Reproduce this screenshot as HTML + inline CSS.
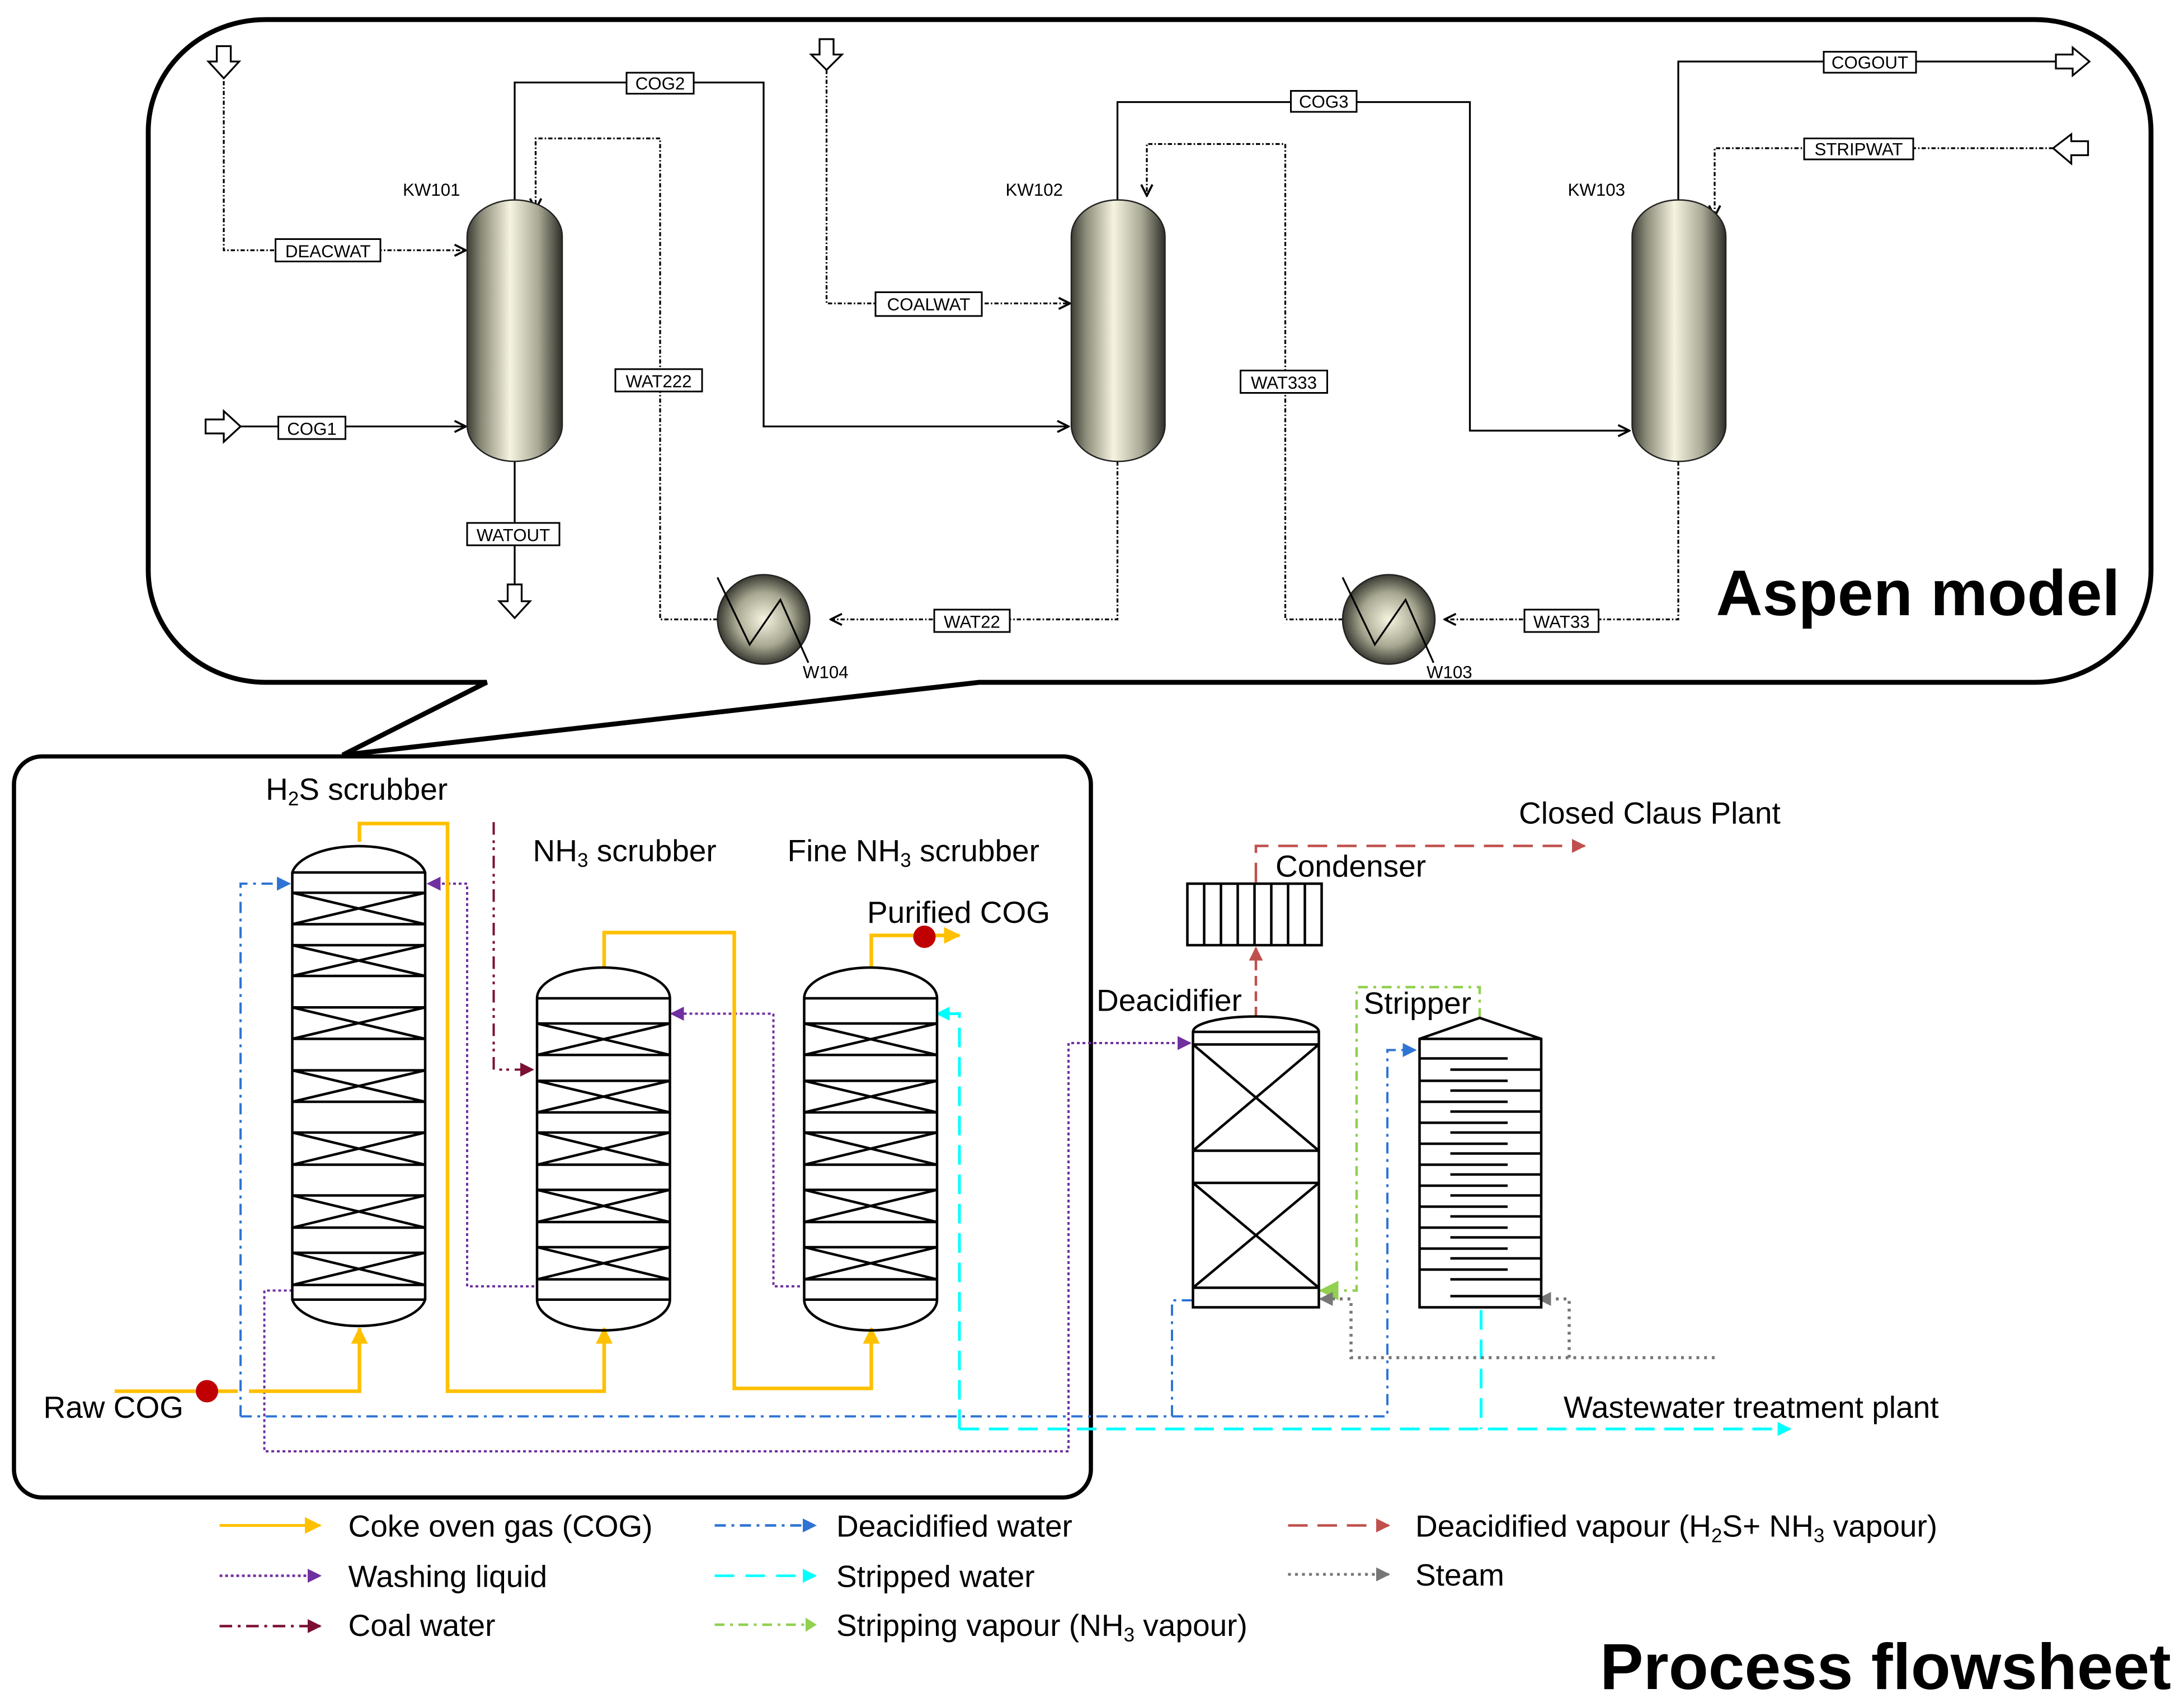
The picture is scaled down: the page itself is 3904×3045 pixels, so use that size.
<!DOCTYPE html>
<html><head><meta charset="utf-8"><style>html,body{margin:0;padding:0;background:#fff}svg{display:block}</style></head>
<body>
<svg xmlns="http://www.w3.org/2000/svg" width="3904" height="3045" viewBox="0 0 1561.6 1218" preserveAspectRatio="none" font-family="Liberation Sans, Arial, sans-serif">
<defs>
<linearGradient id="col" x1="0" y1="0" x2="1" y2="0">
<stop offset="0" stop-color="#3c3c34"/><stop offset="0.15" stop-color="#8a8a78"/><stop offset="0.45" stop-color="#f6f4e0"/><stop offset="0.75" stop-color="#a8a894"/><stop offset="1" stop-color="#2e2e28"/></linearGradient>
<radialGradient id="hx" cx="0.5" cy="0.5" r="0.5"><stop offset="0" stop-color="#f6f4e0"/><stop offset="0.6" stop-color="#a8a892"/><stop offset="1" stop-color="#3a3a32"/></radialGradient>
<marker id="ak" markerWidth="10" markerHeight="10" refX="9" refY="5" orient="auto" markerUnits="userSpaceOnUse"><path d="M1,1 L9,5 L1,9" fill="none" stroke="#000" stroke-width="1.5"/></marker>
<marker id="ay" markerWidth="12" markerHeight="12" refX="11" refY="6" orient="auto" markerUnits="userSpaceOnUse"><path d="M0,0 L12,6 L0,12Z" fill="#FFC000"/></marker>
<marker id="ap" markerWidth="10" markerHeight="10" refX="9" refY="5" orient="auto" markerUnits="userSpaceOnUse"><path d="M0,0 L10,5 L0,10Z" fill="#7030A0"/></marker>
<marker id="ab" markerWidth="10" markerHeight="10" refX="9" refY="5" orient="auto" markerUnits="userSpaceOnUse"><path d="M0,0 L10,5 L0,10Z" fill="#2E74D4"/></marker>
<marker id="am" markerWidth="10" markerHeight="10" refX="9" refY="5" orient="auto" markerUnits="userSpaceOnUse"><path d="M0,0 L10,5 L0,10Z" fill="#7B1034"/></marker>
<marker id="ar" markerWidth="10" markerHeight="10" refX="9" refY="5" orient="auto" markerUnits="userSpaceOnUse"><path d="M0,0 L10,5 L0,10Z" fill="#C0504D"/></marker>
<marker id="ac" markerWidth="10" markerHeight="10" refX="9" refY="5" orient="auto" markerUnits="userSpaceOnUse"><path d="M0,0 L10,5 L0,10Z" fill="#00FFFF"/></marker>
<marker id="ag" markerWidth="14" markerHeight="14" refX="13" refY="7" orient="auto" markerUnits="userSpaceOnUse"><path d="M0,0 L14,7 L0,14Z" fill="#92D050"/></marker>
<marker id="ad" markerWidth="10" markerHeight="10" refX="9" refY="5" orient="auto" markerUnits="userSpaceOnUse"><path d="M0,0 L10,5 L0,10Z" fill="#777"/></marker>
</defs>
<rect width="1561.6" height="1218" fill="#fff"/>

<path d="M190,14 H1455 A83,80 0 0 1 1538,94 V408 A83,80 0 0 1 1455,488 H700 L245,540 L348,488 H190 A84,80 0 0 1 106,408 V94 A84,80 0 0 1 190,14 Z" fill="none" stroke="#000" stroke-width="3.5"/>

<g fill="none" stroke="#000" stroke-width="1.3">
<path d="M368,143 V59 H546 V305 H764" marker-end="url(#ak)"/>
<path d="M172,305 H333" marker-end="url(#ak)"/>
<path d="M368,330 V418"/>
<path d="M799,143 V73 H1051 V308 H1165" marker-end="url(#ak)"/>
<path d="M1200,143 V44 H1470"/>
</g>
<g fill="none" stroke="#000" stroke-width="1.3" stroke-dasharray="3,1.5,1,1.5">
<path d="M160,58 V179 H333" marker-end="url(#ak)"/>
<path d="M591,50 V217 H765" marker-end="url(#ak)"/>
<path d="M513,443 H472 V99 H383 V150" marker-end="url(#ak)"/>
<path d="M799,330 V443 H594" marker-end="url(#ak)"/>
<path d="M960,443 H919 V103 H820 V140" marker-end="url(#ak)"/>
<path d="M1200,330 V443 H1033" marker-end="url(#ak)"/>
<path d="M1468,106 H1226 V155" marker-end="url(#ak)"/>
</g>
<g fill="#fff" stroke="#000" stroke-width="1.3">
<path d="M155,33 H165 V44 H171 L160,56 L149,44 H155 Z"/>
<path d="M586,28 H596 V39 H602 L591,50 L580,39 H586 Z"/>
<path d="M363,418 H373 V430 H379 L368,442 L357,430 H363 Z"/>
<path d="M147,300 H160 V294 L172,305 L160,316 V310 H147 Z"/>
<path d="M1470,39 H1482 V34 L1494,44 L1482,54 V49 H1470 Z"/>
<path d="M1493,101 H1481 V96 L1468,106 L1481,117 V111 H1493 Z"/>
</g>
<g stroke="#222" stroke-width="1">
<rect x="334" y="143" width="68" height="187" rx="34" ry="26" fill="url(#col)"/>
<rect x="766" y="143" width="67" height="187" rx="33" ry="26" fill="url(#col)"/>
<rect x="1167" y="143" width="67" height="187" rx="33" ry="26" fill="url(#col)"/>
<ellipse cx="546" cy="443" rx="33" ry="32" fill="url(#hx)"/>
<ellipse cx="993" cy="443" rx="33" ry="32" fill="url(#hx)"/>
</g>
<g fill="none" stroke="#000" stroke-width="1.3">
<path d="M513,413 L536,461 L558,429 L578,474"/>
<path d="M960,413 L983,461 L1005,429 L1025,474"/>
</g>
<g font-size="12.5" fill="#000">
<text x="288" y="140">KW101</text><text x="719" y="140">KW102</text><text x="1121" y="140">KW103</text>
<text x="574" y="485">W104</text><text x="1020" y="485">W103</text>
</g>
<g fill="#fff" stroke="#000" stroke-width="1.2">
<rect x="197" y="171" width="75" height="16"/><rect x="199" y="298" width="48" height="16"/>
<rect x="448" y="52" width="48" height="15"/><rect x="440" y="264" width="62" height="16"/>
<rect x="334" y="374" width="66" height="16"/><rect x="626" y="209" width="76" height="17"/>
<rect x="923" y="65" width="47" height="15"/><rect x="887" y="265" width="62" height="16"/>
<rect x="668" y="436" width="54" height="16"/><rect x="1090" y="436" width="53" height="16"/>
<rect x="1304" y="37" width="66" height="15"/><rect x="1290" y="99" width="78" height="15"/>
</g>
<g font-size="12.5" fill="#000" text-anchor="middle">
<text x="234.5" y="184">DEACWAT</text><text x="223" y="311">COG1</text>
<text x="472" y="64">COG2</text><text x="471" y="277">WAT222</text>
<text x="367" y="387">WATOUT</text><text x="664" y="222">COALWAT</text>
<text x="946.5" y="77">COG3</text><text x="918" y="278">WAT333</text>
<text x="695" y="449">WAT22</text><text x="1116.5" y="449">WAT33</text>
<text x="1337" y="49">COGOUT</text><text x="1329" y="111">STRIPWAT</text>
</g>
<text x="1227" y="440" font-size="46" font-weight="bold">Aspen model</text>

<rect x="10" y="541" width="770" height="530" rx="20" fill="none" stroke="#000" stroke-width="3"/>

<g fill="none" stroke-width="1.6">
<path d="M382,920 H334 V632 H306" stroke="#7030A0" stroke-dasharray="2,2" marker-end="url(#ap)"/>
<path d="M572,920 H553 V725 H480" stroke="#7030A0" stroke-dasharray="2,2" marker-end="url(#ap)"/>
<path d="M209,923 H189 V1038 H764 V746 H851" stroke="#7030A0" stroke-dasharray="2,2" marker-end="url(#ap)"/>
<path d="M172,1013 V632 H207" stroke="#2E74D4" stroke-dasharray="8,4,2,4" marker-end="url(#ab)"/>
<path d="M172,1013 H992 V751 H1012" stroke="#2E74D4" stroke-dasharray="8,4,2,4" marker-end="url(#ab)"/>
<path d="M853,930 H838 V1013" stroke="#2E74D4" stroke-dasharray="8,4,2,4"/>
<path d="M353,588 V765 H381" stroke="#7B1034" stroke-dasharray="9,4,2,3,2,4" marker-end="url(#am)"/>
<path d="M686,1022 V725 H670" stroke="#00FFFF" stroke-width="2" stroke-dasharray="14,7" marker-end="url(#ac)"/>
<path d="M686,1022 H1280" stroke="#00FFFF" stroke-width="2" stroke-dasharray="14,7" marker-end="url(#ac)"/>
<path d="M1059,937 V1022" stroke="#00FFFF" stroke-width="2" stroke-dasharray="14,7"/>
<path d="M898,727 V678" stroke="#C0504D" stroke-width="1.8" stroke-dasharray="7,4" marker-end="url(#ar)"/>
<path d="M898,631 V605 H1133" stroke="#C0504D" stroke-width="1.8" stroke-dasharray="14,7" marker-end="url(#ar)"/>
<path d="M1058,728 V706 H970 V923 H944" stroke="#92D050" stroke-width="1.8" stroke-dasharray="7,4,2,4" marker-end="url(#ag)"/>
<path d="M1226,971 H966 V929 H944" stroke="#777" stroke-width="2.2" stroke-dasharray="2,3.5" marker-end="url(#ad)"/>
<path d="M1122,971 V929 H1100" stroke="#777" stroke-width="2.2" stroke-dasharray="2,3.5" marker-end="url(#ad)"/>
</g>
<g fill="none" stroke="#FFC000" stroke-width="2.6">
<path d="M82,995 H140"/>
<path d="M155,995 H170 M178,995 H257 V950" marker-end="url(#ay)"/>
<path d="M257,602 V589 H320 V995 H432 V950" marker-end="url(#ay)"/>
<path d="M432,692 V667 H525 V993 H623 V950" marker-end="url(#ay)"/>
<path d="M623,692 V669 H686" marker-end="url(#ay)"/>
</g>
<ellipse cx="148" cy="995" rx="8" ry="8" fill="#C00000"/>
<ellipse cx="661" cy="670" rx="8" ry="8" fill="#C00000"/>

<g fill="none" stroke="#000" stroke-width="1.8">
<path d="M209,624 A48,22 0 0 1 304,624 V929.5 A48,22 0 0 1 209,929.5 Z"/>
<path d="M209,624 H304 M209,929.5 H304"/>
<path d="M209,638.5H304M209,661H304M209,638.5L304,661M304,638.5L209,661"/>
<path d="M209,676H304M209,698H304M209,676L304,698M304,676L209,698"/>
<path d="M209,720.5H304M209,743H304M209,720.5L304,743M304,720.5L209,743"/>
<path d="M209,765.5H304M209,788H304M209,765.5L304,788M304,765.5L209,788"/>
<path d="M209,810H304M209,833H304M209,810L304,833M304,810L209,833"/>
<path d="M209,855H304M209,878H304M209,855L304,878M304,855L209,878"/>
<path d="M209,896H304M209,919H304M209,896L304,919M304,896L209,919"/>

<path d="M384,714 A47.5,22 0 0 1 479,714 V929.5 A47.5,22 0 0 1 384,929.5 Z"/>
<path d="M384,714H479M384,929.5H479"/>
<path d="M384,732H479M384,754.5H479M384,732L479,754.5M479,732L384,754.5"/>
<path d="M384,773H479M384,795.6H479M384,773L479,795.6M479,773L384,795.6"/>
<path d="M384,810H479M384,833H479M384,810L479,833M479,810L384,833"/>
<path d="M384,851H479M384,874H479M384,851L479,874M479,851L384,874"/>
<path d="M384,892H479M384,915H479M384,892L479,915M479,892L384,915"/>

<path d="M575,714 A47.5,22 0 0 1 670,714 V929.5 A47.5,22 0 0 1 575,929.5 Z"/>
<path d="M575,714H670M575,929.5H670"/>
<path d="M575,732H670M575,754.5H670M575,732L670,754.5M670,732L575,754.5"/>
<path d="M575,773H670M575,795.6H670M575,773L670,795.6M670,773L575,795.6"/>
<path d="M575,810H670M575,833H670M575,810L670,833M670,810L575,833"/>
<path d="M575,851H670M575,874H670M575,851L670,874M670,851L575,874"/>
<path d="M575,892H670M575,915H670M575,892L670,915M670,892L575,915"/>

<path d="M853,738 A45,11 0 0 1 943,738 V935 H853 Z"/>
<path d="M853,738H943M853,747H943M853,823H943M853,747L943,823M943,747L853,823"/>
<path d="M853,846H943M853,921H943M853,846L943,921M943,846L853,921"/>
<rect x="849" y="632" width="96" height="44"/>
<path d="M861,632V676M873,632V676M885,632V676M897,632V676M909,632V676M921,632V676M933,632V676"/>
<path d="M1015,743 L1058,728 L1102,743 V935 H1015 Z"/>
<path d="M1015,743H1102"/>
<path d="M1015,757H1078M1015,773H1078M1015,788H1078M1015,803H1078M1015,818H1078M1015,833H1078M1015,848H1078M1015,863H1078M1015,878H1078M1015,893H1078M1015,908H1078"/>
<path d="M1037,765H1102M1037,780H1102M1037,795H1102M1037,810H1102M1037,825H1102M1037,840H1102M1037,855H1102M1037,870H1102M1037,885H1102M1037,900H1102M1037,915H1102M1037,927H1102"/>
</g>

<g font-size="22" fill="#000">
<text x="190" y="572">H<tspan font-size="14" dy="4">2</tspan><tspan dy="-4">S scrubber</tspan></text>
<text x="381" y="616">NH<tspan font-size="14" dy="4">3</tspan><tspan dy="-4"> scrubber</tspan></text>
<text x="563" y="616">Fine NH<tspan font-size="14" dy="4">3</tspan><tspan dy="-4"> scrubber</tspan></text>
<text x="620" y="660">Purified COG</text>
<text x="31" y="1014">Raw COG</text>
<text x="1086" y="589">Closed Claus Plant</text>
<text x="912" y="627">Condenser</text>
<text x="784" y="723">Deacidifier</text>
<text x="975" y="725">Stripper</text>
<text x="1118" y="1014">Wastewater treatment plant</text>
</g>

<g fill="none" stroke-width="1.8">
<path d="M157,1091 H229" stroke="#FFC000" stroke-width="2" marker-end="url(#ay)"/>
<path d="M157,1127 H229" stroke="#7030A0" stroke-dasharray="2,2" marker-end="url(#ap)"/>
<path d="M157,1163 H229" stroke="#7B1034" stroke-dasharray="9,4,2,4" marker-end="url(#am)"/>
<path d="M511,1091 H583" stroke="#2E74D4" stroke-dasharray="8,4,2,4" marker-end="url(#ab)"/>
<path d="M511,1127 H583" stroke="#00FFFF" stroke-dasharray="14,8" marker-end="url(#ac)"/>
<path d="M511,1162 H576" stroke="#92D050" stroke-dasharray="7,4,2,4"/>
<path d="M921,1091 H993" stroke="#C0504D" stroke-dasharray="14,7" marker-end="url(#ar)"/>
<path d="M921,1126 H993" stroke="#777" stroke-width="2" stroke-dasharray="2,3" marker-end="url(#ad)"/>
</g>
<path d="M576,1157 L584,1162 L576,1167Z" fill="#92D050"/>
<g font-size="22" fill="#000">
<text x="249" y="1099">Coke oven gas (COG)</text>
<text x="249" y="1135">Washing liquid</text>
<text x="249" y="1170">Coal water</text>
<text x="598" y="1099">Deacidified water</text>
<text x="598" y="1135">Stripped water</text>
<text x="598" y="1170">Stripping vapour (NH<tspan font-size="14" dy="4">3</tspan><tspan dy="-4"> vapour)</tspan></text>
<text x="1012" y="1099">Deacidified vapour (H<tspan font-size="14" dy="4">2</tspan><tspan dy="-4">S+ NH</tspan><tspan font-size="14" dy="4">3</tspan><tspan dy="-4"> vapour)</tspan></text>
<text x="1012" y="1134">Steam</text>
</g>
<text x="1144" y="1208" font-size="46.5" font-weight="bold">Process flowsheet</text>
</svg>
</body></html>
